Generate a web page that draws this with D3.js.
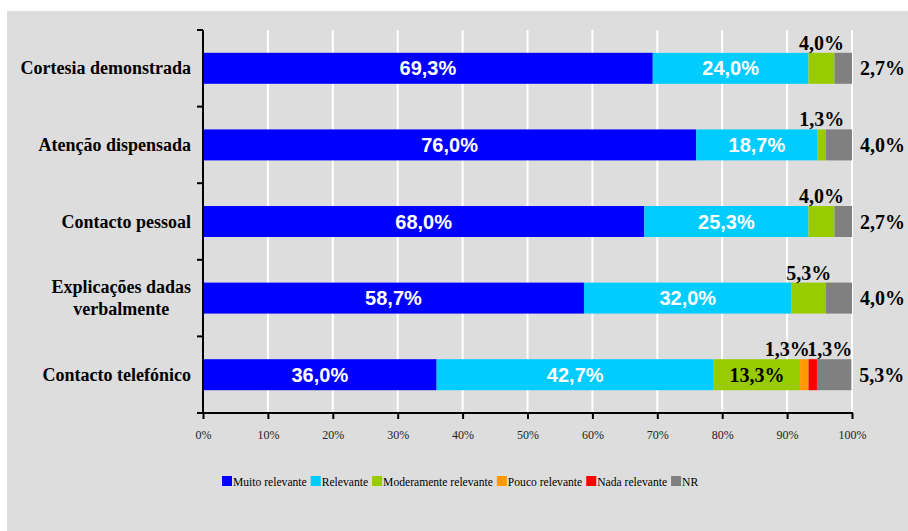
<!DOCTYPE html>
<html>
<head>
<meta charset="utf-8">
<script src="https://cdn.jsdelivr.net/npm/d3@7/dist/d3.min.js"></script>
<style>
  html, body { margin: 0; padding: 0; background: #ffffff; }
  svg { display: block; }
</style>
</head>
<body>
<svg id="chart" width="908" height="531"></svg>
<script>
const categories = ["Cortesia demonstrada", "Atenção dispensada", "Contacto pessoal", "Explicações dadas verbalmente", "Contacto telefónico"];
const categoryLines = [["Cortesia demonstrada"], ["Atenção dispensada"], ["Contacto pessoal"], ["Explicações dadas", "verbalmente"], ["Contacto telefónico"]];
const seriesNames = ["Muito relevante", "Relevante", "Moderamente relevante", "Pouco relevante", "Nada relevante", "NR"];
const seriesColors = ["#0000ff", "#00ccff", "#99cc00", "#ff9900", "#ff0000", "#808080"];
const muitoRelevante = [69.3, 76.0, 68.0, 58.7, 36.0];
const relevante = [24.0, 18.7, 25.3, 32.0, 42.7];
const moderamente = [4.0, 1.3, 4.0, 5.3, 13.3];
const poucoRelevante = [0, 0, 0, 0, 1.3];
const nadaRelevante = [0, 0, 0, 0, 1.3];
const nr = [2.7, 4.0, 2.7, 4.0, 5.3];
const xTicks = [0, 10, 20, 30, 40, 50, 60, 70, 80, 90, 100];

const seriesValues = [muitoRelevante, relevante, moderamente, poucoRelevante, nadaRelevante, nr];

const SERIF = "'Liberation Serif','Times New Roman',Times,serif";
const SANS = "'Liberation Sans',Arial,Helvetica,sans-serif";

const svg = d3.select("#chart");
svg.append("rect").attr("x", 7).attr("y", 11).attr("width", 908 - 7).attr("height", 531 - 11).attr("fill", "#dddddd");

const x = d3.scaleLinear().domain([0, 100]).range([203, 852]);
const y = d3.scaleBand().domain(categories).range([30, 413]).paddingInner(0).paddingOuter(0);
const barH = 31;

// gridlines
svg.append("g").selectAll("line").data(xTicks.slice(1)).join("line")
  .attr("x1", d => x(d)).attr("x2", d => x(d))
  .attr("y1", 30).attr("y2", 413)
  .attr("stroke", "#ffffff").attr("stroke-width", 2);

// stacked data
const rows = categories.map((c, i) => {
  const r = { cat: c };
  seriesNames.forEach((s, j) => r[s] = seriesValues[j][i]);
  return r;
});
const stack = d3.stack().keys(seriesNames)(rows);

const fmt = v => d3.format(".1f")(v).replace(".", ",") + "%";

stack.forEach((layer, j) => {
  svg.append("g").selectAll("rect").data(layer).join("rect")
    .attr("x", d => x(d[0]))
    .attr("width", d => x(d[1]) - x(d[0]))
    .attr("y", d => y(d.data.cat) + y.bandwidth() / 2 - barH / 2)
    .attr("height", barH)
    .attr("fill", seriesColors[j]);
});

// labels
const labelG = svg.append("g");
categories.forEach((c, i) => {
  const cy = y(c) + y.bandwidth() / 2;
  const above = [];
  stack.forEach((layer, j) => {
    const d = layer[i];
    const v = seriesValues[j][i];
    if (!v) return;
    const mid = (x(d[0]) + x(d[1])) / 2;
    if (j === seriesNames.length - 1) {
      labelG.append("text").attr("x", x(d[1]) + 8).attr("y", cy + 7)
        .attr("font-family", SERIF).attr("font-weight", "bold")
        .attr("font-size", 20).attr("fill", "#000").text(fmt(v));
    } else if (v >= 10) {
      const isArial = j < 2;
      labelG.append("text").attr("x", mid).attr("y", cy + 7).attr("text-anchor", "middle")
        .attr("font-family", isArial ? SANS : SERIF)
        .attr("font-weight", "bold").attr("font-size", 20)
        .attr("fill", isArial ? "#ffffff" : "#000000").text(fmt(v));
    } else {
      above.push({ mid, v });
    }
  });
  const top = cy - barH / 2;
  above.forEach((a, k) => {
    let xx = a.mid;
    if (above.length > 1) xx = a.mid + (k === 0 ? -17 : 17);
    labelG.append("text").attr("x", xx).attr("y", top - 3).attr("text-anchor", "middle")
      .attr("font-family", SERIF).attr("font-weight", "bold")
      .attr("font-size", 20).attr("fill", "#000").text(fmt(a.v));
  });
});

// y axis
svg.append("line").attr("x1", 203).attr("x2", 203).attr("y1", 30).attr("y2", 414)
  .attr("stroke", "#000").attr("stroke-width", 2);
const bounds = categories.map(c => y(c)).concat([y.range()[1]]);
svg.append("g").selectAll("line").data(bounds).join("line")
  .attr("x1", 197).attr("x2", 203).attr("y1", d => d).attr("y2", d => d)
  .attr("stroke", "#000").attr("stroke-width", 2);

// category labels
categoryLines.forEach((lines, i) => {
  const cy = y(categories[i]) + y.bandwidth() / 2;
  const t = svg.append("text")
    .attr("font-family", SERIF).attr("font-weight", "bold")
    .attr("font-size", 18).attr("fill", "#000");
  const lh = 22;
  const y0 = cy - (lines.length - 1) * lh / 2 + 6;
  const tspans = lines.map((l, k) => t.append("tspan").attr("y", y0 + k * lh).text(l));
  const widths = tspans.map(s => s.node().getComputedTextLength());
  const maxW = d3.max(widths);
  const center = 191 - maxW / 2;
  tspans.forEach(s => s.attr("x", center).attr("text-anchor", "middle"));
});

// x axis
const xAxis = d3.axisBottom(x).tickValues(xTicks).tickSize(6).tickFormat(d => d + "%");
const gx = svg.append("g").attr("transform", "translate(0,413)").call(xAxis);
gx.select(".domain").attr("stroke", "#000").attr("stroke-width", 2).attr("d", `M${x(0) - 1},0H${x(100) + 1}`);
gx.selectAll(".tick line").attr("stroke", "#000").attr("stroke-width", 2);
gx.selectAll(".tick text").attr("font-family", SERIF)
  .attr("font-size", 12).attr("fill", "#222").attr("dy", "1.4em");

// legend
const lg = svg.append("g");
let cx = 0;
seriesNames.forEach((s, j) => {
  const g = lg.append("g");
  g.append("rect").attr("x", cx).attr("y", -5).attr("width", 10).attr("height", 10).attr("fill", seriesColors[j]);
  const t = g.append("text").attr("x", cx + 11).attr("y", 4.5)
    .attr("font-family", SERIF).attr("font-size", 11.6)
    .attr("fill", "#000").text(s);
  cx += 11 + t.node().getComputedTextLength() + 4;
});
const totalW = cx - 4;
lg.attr("transform", `translate(${222},481)`);
</script>
</body>
</html>
